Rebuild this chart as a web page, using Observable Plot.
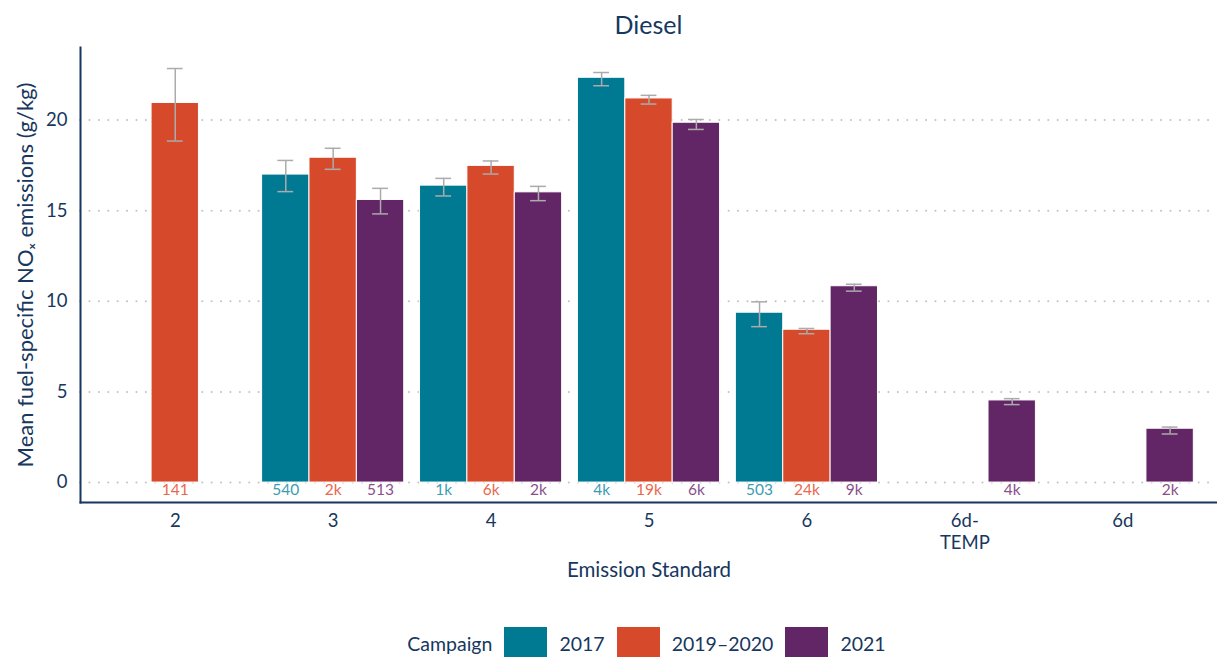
<!DOCTYPE html>
<html>
<head>
<meta charset="utf-8">
<script src="https://cdn.jsdelivr.net/npm/d3@7"></script>
<script src="https://cdn.jsdelivr.net/npm/@observablehq/plot@0.6"></script>
<style>
  html, body { margin: 0; padding: 0; background: #fff; }
  body { font-family: Lato, "Open Sans", sans-serif; color: #17375E; width: 1217px; }
  #title { box-sizing: border-box; height: 44px; padding-top: 4px; line-height: 40px; text-align: center; font-size: 25px; padding-left: 80px; }
  #legend { display: flex; justify-content: center; align-items: center; padding-top: 27px; padding-left: 76px; font-size: 19.5px; }
  #legend .sw { width: 43px; height: 32px; margin: 0 12px; }
</style>
</head>
<body>
<div id="title">Diesel</div>
<div id="chart"></div>
<div id="legend"></div>
<script>
const standards = ["2", "3", "4", "5", "6", "6d-TEMP", "6d"];
const standardLabels = ["2", "3", "4", "5", "6", "6d-\nTEMP", "6d"];
const campaigns = ["2017", "2019–2020", "2021"];
const campaignColors = ["#007A93", "#D64A2B", "#622565"];
const countColors = ["#3D9CB0", "#E8694D", "#8A508D"];

const mean2017 = [null, 16.99, 16.38, 22.33, 9.37, null, null];
const low2017  = [null, 16.05, 15.81, 21.89, 8.60, null, null];
const high2017 = [null, 17.77, 16.78, 22.62, 9.97, null, null];
const n2017    = [null, "540", "1k", "4k", "503", null, null];

const mean2019 = [20.94, 17.92, 17.47, 21.19, 8.43, null, null];
const low2019  = [18.84, 17.28, 17.02, 20.88, 8.21, null, null];
const high2019 = [22.84, 18.44, 17.74, 21.36, 8.50, null, null];
const n2019    = ["141", "2k", "6k", "19k", "24k", null, null];

const mean2021 = [null, 15.59, 16.01, 19.85, 10.83, 4.53, 2.97];
const low2021  = [null, 14.82, 15.55, 19.48, 10.56, 4.30, 2.68];
const high2021 = [null, 16.23, 16.34, 20.03, 10.94, 4.63, 3.06];
const n2021    = [null, "513", "2k", "6k", "9k", "4k", "2k"];

const yTicks = [0, 5, 10, 15, 20];
const navy = "#17375E";

const series = [
  {mean: mean2017, low: low2017, high: high2017, n: n2017},
  {mean: mean2019, low: low2019, high: high2019, n: n2019},
  {mean: mean2021, low: low2021, high: high2021, n: n2021}
];

// dodge: each standard occupies one unit, three campaign slots of 0.3 each
const slot = 0.3;
const rows = [];
series.forEach((s, k) => {
  standards.forEach((st, i) => {
    if (s.mean[i] == null) return;
    rows.push({
      standard: st,
      campaign: campaigns[k],
      k,
      pos: i + 1 + (k - 1) * slot,
      mean: s.mean[i],
      low: s.low[i],
      high: s.high[i],
      n: s.n[i]
    });
  });
});

const capHalf = 0.05;
const errColor = "#ABABAB";

const chart = Plot.plot({
  width: 1217,
  height: 556,
  marginTop: 3,
  marginLeft: 80,
  marginRight: 0,
  marginBottom: 98,
  style: {fontFamily: "Lato, 'Open Sans', sans-serif", color: navy, background: "white", overflow: "visible"},
  x: {domain: [0.4, standards.length + 0.6]},
  y: {domain: [-1.1, 24]},
  color: {domain: campaigns, range: campaignColors},
  marks: [
    Plot.gridY(yTicks, {stroke: "#c4c4c4", strokeOpacity: 1, strokeWidth: 2, strokeDasharray: "0.1,9.3", strokeLinecap: "round"}),
    Plot.rectY(rows, {x1: d => d.pos - slot / 2, x2: d => d.pos + slot / 2, y: "mean", fill: "campaign", stroke: "white", strokeWidth: 1}),
    Plot.ruleX(rows, {x: "pos", y1: "low", y2: "high", stroke: errColor, strokeWidth: 1.5}),
    Plot.ruleY(rows, {y: "high", x1: d => d.pos - capHalf, x2: d => d.pos + capHalf, stroke: errColor, strokeWidth: 1.5}),
    Plot.ruleY(rows, {y: "low", x1: d => d.pos - capHalf, x2: d => d.pos + capHalf, stroke: errColor, strokeWidth: 1.5}),
    ...campaigns.map((c, k) => Plot.text(rows.filter(d => d.k === k), {
      x: "pos", text: "n", frameAnchor: "bottom", dy: -8, fill: countColors[k], fontSize: 15.5
    })),
    Plot.frame({anchor: "bottom", stroke: navy, strokeWidth: 2}),
    Plot.frame({anchor: "left", stroke: navy, strokeWidth: 2}),
    Plot.axisY({ticks: yTicks, tickSize: 0, tickPadding: 13, fontSize: 18.5, label: null}),
    Plot.axisY({ticks: [], tickSize: 0, fontSize: 22,
      label: "Mean fuel-specific NOₓ emissions (g/kg)", labelAnchor: "center", labelOffset: 63, labelArrow: "none"}),
    Plot.axisX({ticks: d3.range(1, standards.length + 1), tickFormat: i => standardLabels[i - 1],
      tickSize: 0, tickPadding: 9, fontSize: 18.5, lineHeight: 1.2, label: null}),
    Plot.axisX({ticks: [], tickSize: 0, fontSize: 20.5,
      label: "Emission Standard", labelAnchor: "center", labelOffset: 74, labelArrow: "none"})
  ]
});
document.getElementById("chart").appendChild(chart);

const legend = document.getElementById("legend");
const head = document.createElement("span");
head.textContent = "Campaign";
legend.appendChild(head);
campaigns.forEach((c, k) => {
  const sw = document.createElement("span");
  sw.className = "sw";
  sw.style.background = campaignColors[k];
  legend.appendChild(sw);
  const lab = document.createElement("span");
  lab.textContent = c;
  legend.appendChild(lab);
});
</script>
</body>
</html>
